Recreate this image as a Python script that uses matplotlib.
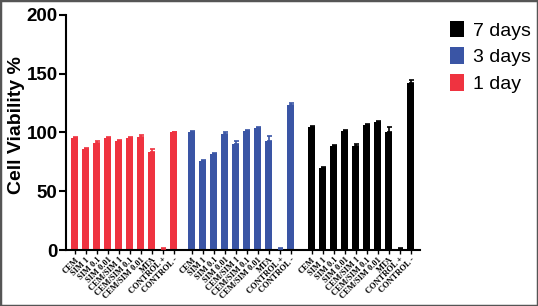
import numpy as np
import matplotlib.pyplot as plt
from matplotlib.patches import Rectangle

# Data
labels = ["CEM", "SIM 1", "SIM 0.1", "SIM 0.01", "CEM/SIM 1", "CEM/SIM 0.1",
          "CEM/SIM 0.01", "MTA", "CONTROL +", "CONTROL -"]

day1 = [95, 86, 91, 95, 93, 95, 96.5, 83, 1, 100]
day1_err = [1, 1, 2, 1, 1, 1, 1, 3, 0.5, 0.5]

day3 = [100.5, 76, 81.5, 99, 90, 101, 104, 93, 1, 123]
day3_err = [1, 0.5, 1, 1, 3, 1.5, 1, 4, 0.5, 2]

day7 = [104.5, 70, 88.5, 101.5, 88.5, 106.5, 109, 100, 1, 142.5]
day7_err = [1, 0.5, 1, 1, 1.5, 1, 1, 5, 0.5, 2]

series = [("1 day", day1, day1_err, "#ef3340"),
          ("3 days", day3, day3_err, "#3a55a5"),
          ("7 days", day7, day7_err, "#000000")]

offsets = [0, 10.65, 21.55]


def main():
    fig = plt.figure(figsize=(5.38, 3.06), dpi=100)
    ax = fig.add_axes([0.1227, 0.183, 0.658, 0.768])

    n = len(labels)
    all_x = []
    handles = {}
    for (name, vals, err, col), off in zip(series, offsets):
        x = np.arange(n) + off
        all_x.extend(x)
        b = ax.bar(x, vals, width=0.62, color=col, label=name, zorder=2)
        ax.errorbar(x, vals, yerr=[np.zeros(n), err], fmt='none', ecolor=col,
                    elinewidth=1.2, capsize=1.8, capthick=1.2, zorder=3)
        handles[name] = b

    ax.set_xlim(-0.8, 31.4)
    ax.set_ylim(0, 200)
    ax.set_yticks([0, 50, 100, 150, 200])
    ax.set_xticks(all_x)
    ax.set_xticklabels(labels * 3, rotation=45, ha='right', rotation_mode='anchor',
                       fontsize=6, family='Liberation Serif', fontweight='bold')
    for lab in ax.get_yticklabels():
        lab.set_fontweight('bold')
        lab.set_fontsize(13.5)
        lab.set_family('Liberation Sans')
    ax.tick_params(axis='x', length=3, width=1, pad=1)
    ax.tick_params(axis='y', length=5, width=1.5, pad=1)

    ax.spines['top'].set_visible(False)
    ax.spines['right'].set_visible(False)
    ax.spines['left'].set_linewidth(1.5)
    ax.spines['bottom'].set_linewidth(1.5)

    ax.set_ylabel("Cell Viability %", fontsize=14, fontweight='bold',
                  family='Liberation Sans', va='center')
    ax.yaxis.set_label_coords(-0.141, 0.53)

    order = ["7 days", "3 days", "1 day"]
    fig.legend([handles[k] for k in order], order, loc='upper left',
               bbox_to_anchor=(0.803, 0.99), frameon=False,
               prop={'family': 'Liberation Sans', 'size': 14},
               handlelength=0.75, handleheight=0.95, handletextpad=0.45,
               labelspacing=0.4)

    # grey frame round the picture
    fig.patches.append(Rectangle((0, 0), 1, 1, transform=fig.transFigure,
                                 fill=False, edgecolor='#555555', linewidth=2.5))

    fig.savefig("out.png", dpi=100)


if __name__ == '__main__':
    main()
